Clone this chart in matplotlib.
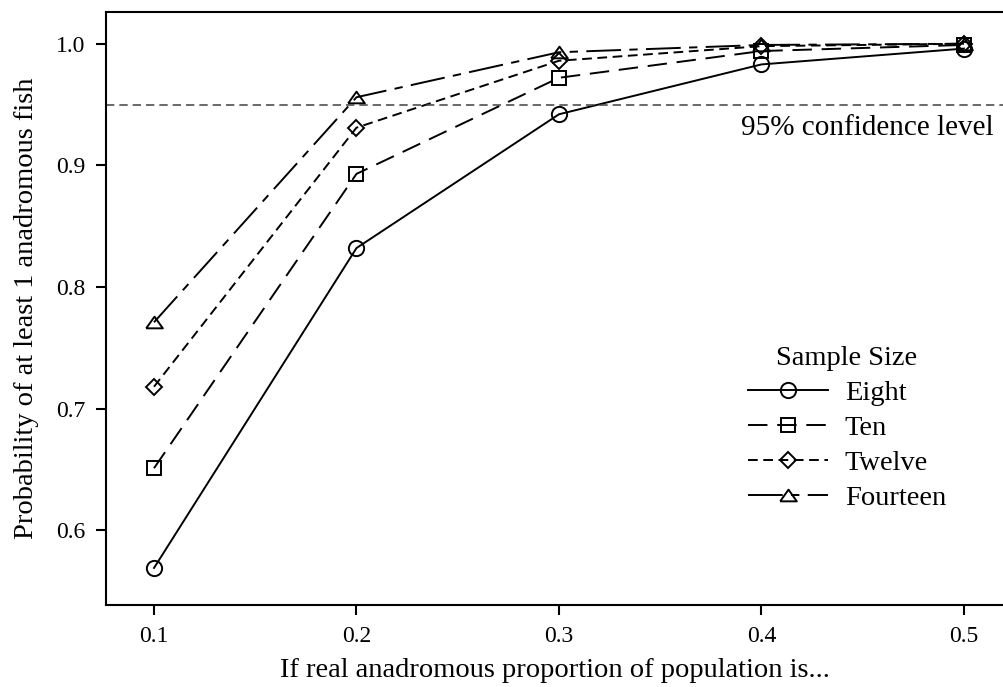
import matplotlib
matplotlib.use("Agg")
import matplotlib.pyplot as plt

plt.rcParams['font.family'] = ['Liberation Serif', 'DejaVu Serif']
plt.rcParams['lines.scale_dashes'] = False

proportion = [0.1, 0.2, 0.3, 0.4, 0.5]
eight = [0.569, 0.832, 0.942, 0.983, 0.996]
ten = [0.651, 0.893, 0.972, 0.994, 0.999]
twelve = [0.718, 0.931, 0.986, 0.998, 1.000]
fourteen = [0.771, 0.956, 0.993, 0.999, 1.000]
conf_level = 0.95

fig = plt.figure(figsize=(10.04, 6.87), dpi=100)
ax = fig.add_axes([0.1056, 0.1193, 0.8944, 0.8636])

# flat open triangle like the original
tri = [(-1, -0.7), (1, -0.7), (0, 0.7), (-1, -0.7)]

lw = 1.4
mew = 1.4
ax.plot(proportion, eight, color='black', lw=lw, linestyle='-', marker='o',
        ms=11, mfc='none', mec='black', mew=mew, label='Eight')
ax.plot(proportion, ten, color='black', lw=lw, linestyle=(0, (14, 7)), marker='s',
        ms=9.5, mfc='none', mec='black', mew=mew, label='Ten')
ax.plot(proportion, twelve, color='black', lw=lw, linestyle=(0, (7, 4)), marker='D',
        ms=8.5, mfc='none', mec='black', mew=mew, label='Twelve')
ax.plot(proportion, fourteen, color='black', lw=lw, linestyle=(0, (25, 6, 6, 6)), marker=tri,
        ms=12, mfc='none', mec='black', mew=mew, label='Fourteen')

ax.axhline(conf_level, color='#404040', lw=1.1, linestyle=(0, (6, 3.6)))
ax.text(0.5145, 0.931, '95% confidence level', ha='right', va='center', fontsize=21)

ax.set_xlim(0.0763, 0.5198)
ax.set_ylim(0.5385, 1.0263)
ax.set_xticks(proportion)
ax.set_xticklabels(['0.1', '0.2', '0.3', '0.4', '0.5'])
ax.set_yticks([0.6, 0.7, 0.8, 0.9, 1.0])
ax.set_yticklabels(['0.6', '0.7', '0.8', '0.9', '1.0'])
ax.tick_params(labelsize=17, length=7, width=1.5, color='black', pad=8)
for s in ['top', 'left', 'bottom']:
    ax.spines[s].set_linewidth(1.5)
ax.spines['right'].set_visible(False)

ax.set_xlabel('If real anadromous proportion of population is...', fontsize=20.5, labelpad=8)
ax.set_ylabel('Probability of at least 1 anadromous fish', fontsize=20.5, labelpad=12)

leg = fig.legend(handles=ax.get_lines()[:4], title='Sample Size', loc='upper left',
                 bbox_to_anchor=(748 / 1004, 1 - 346 / 687), bbox_transform=fig.transFigure,
                 frameon=False, fontsize=20.5, title_fontsize=20.5, handlelength=2.8,
                 handletextpad=0.6, labelspacing=0.32, borderpad=0, borderaxespad=0)

fig.savefig('out.png', dpi=100)
